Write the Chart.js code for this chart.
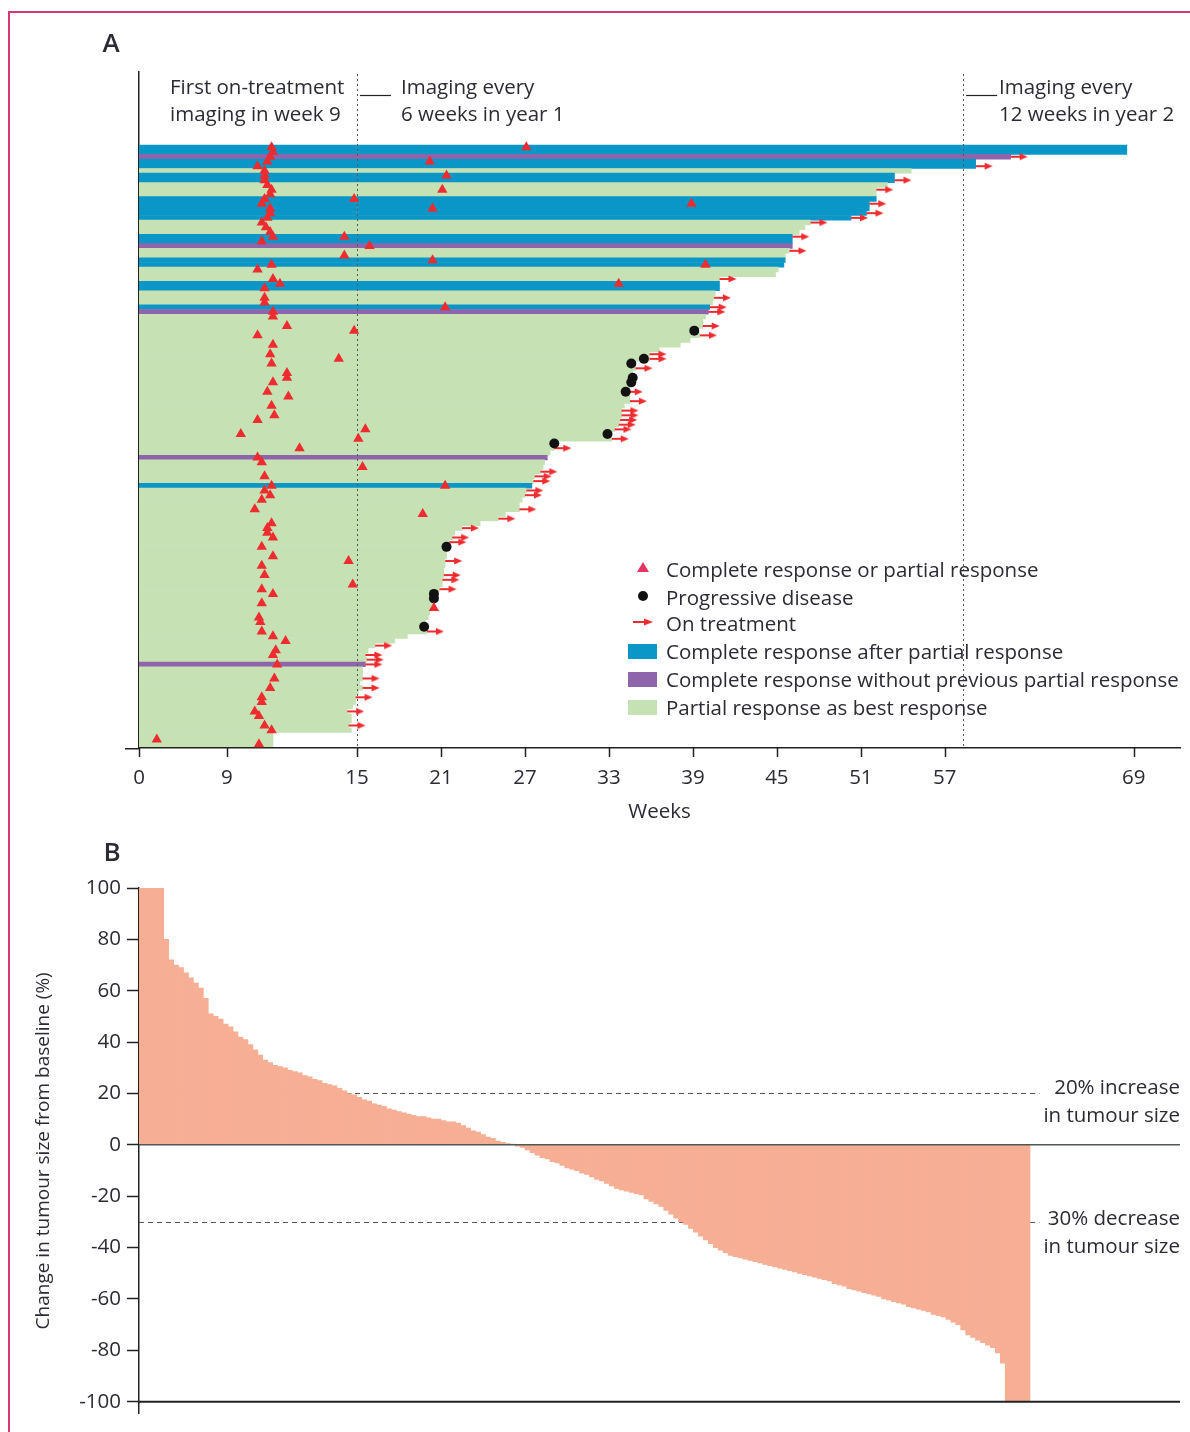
<!DOCTYPE html>
<html lang="en">
<head>
<meta charset="utf-8">
<title>Duration of response and change in tumour size</title>
<script src="https://cdn.jsdelivr.net/npm/chart.js@4.4.1/dist/chart.umd.min.js"></script>
<style>
  html, body { margin: 0; padding: 0; background: #fff; }
  body { position: relative; width: 1190px; height: 1432px; overflow: hidden;
         font-family: "Open Sans", "Noto Sans", sans-serif; color: #2b2b35; }
  #frame { position: absolute; left: 8px; top: 11px; width: 1182px; height: 1421px; box-sizing: border-box;
           border-top: 2px solid #d8386e; border-left: 2px solid #d8386e; }
  canvas { position: absolute; left: 0; }
  #chartA { top: 0; }
  #chartB { top: 840px; }
  .txt { position: absolute; font-size: 20.5px; line-height: 22px; white-space: nowrap; transform: translateY(-50%); }
  .rtxt { position: absolute; right: 10px; font-size: 20.5px; line-height: 22px; white-space: nowrap; text-align: right; transform: translateY(-50%); }
  .panel { position: absolute; font-size: 26px; font-weight: 600; line-height: 26px; transform: translate(-50%, -50%); }
  .sw { position: absolute; }
</style>
</head>
<body>
<div id="frame"></div>
<canvas id="chartA" width="1190" height="840"></canvas>
<canvas id="chartB" width="1190" height="592"></canvas>

<div class="panel" style="left:111px;top:42px">A</div>
<div class="panel" style="left:112px;top:851px">B</div>

<div class="txt" style="left:170px;top:86px">First on-treatment</div>
<div class="txt" style="left:170px;top:113px">imaging in week 9</div>
<div class="txt" style="left:401px;top:86px">Imaging every</div>
<div class="txt" style="left:401px;top:113px">6 weeks in year 1</div>
<div class="txt" style="left:999px;top:86px">Imaging every</div>
<div class="txt" style="left:999px;top:113px">12 weeks in year 2</div>

<!-- legend, panel A -->
<div class="sw" style="left:637px;top:562px;width:0;height:0;border-left:6px solid transparent;border-right:6px solid transparent;border-bottom:10px solid #e63462"></div>
<div class="sw" style="left:638px;top:591px;width:10px;height:10px;border-radius:50%;background:#111"></div>
<svg class="sw" style="left:633px;top:617px" width="20" height="10"><line x1="0" y1="5" x2="14" y2="5" stroke="#ee2b2f" stroke-width="2"/><polygon points="11,1.5 20,5 11,8.5" fill="#ee2b2f"/></svg>
<div class="sw" style="left:628px;top:644px;width:29px;height:15px;background:#0a96c6"></div>
<div class="sw" style="left:628px;top:672px;width:29px;height:15px;background:#8e64ab"></div>
<div class="sw" style="left:628px;top:700px;width:29px;height:15px;background:#c6e2b4"></div>
<div class="txt" style="left:666px;top:569px">Complete response or partial response</div>
<div class="txt" style="left:666px;top:597px">Progressive disease</div>
<div class="txt" style="left:666px;top:623px">On treatment</div>
<div class="txt" style="left:666px;top:651px">Complete response after partial response</div>
<div class="txt" style="left:666px;top:679px">Complete response without previous partial response</div>
<div class="txt" style="left:666px;top:707px">Partial response as best response</div>

<!-- threshold labels, panel B -->
<div class="rtxt" style="top:1086px">20% increase</div>
<div class="rtxt" style="top:1114px">in tumour size</div>
<div class="rtxt" style="top:1217px">30% decrease</div>
<div class="rtxt" style="top:1245px">in tumour size</div>

<script>
// ---------- Panel A: one row per responder, top to bottom ----------
// time on study (weeks) at the end of each row
const rowEndWeeks = [
  70.0,70.0,61.7,59.2,59.2,54.6,53.4,53.4,52.9,52.1,
  52.1,52.1,51.6,51.6,51.4,50.3,47.4,47.0,46.6,46.1,
  46.1,46.1,45.9,45.6,45.6,45.5,45.1,44.9,40.9,40.9,
  40.9,40.6,40.5,40.4,40.2,40.1,39.9,39.7,39.7,39.1,
  39.5,38.8,38.1,36.6,35.9,35.9,34.9,34.9,34.7,34.7,
  34.6,34.5,34.2,34.5,34.5,34.1,33.9,33.9,33.8,33.7,
  33.4,32.9,33.2,29.1,29.1,28.8,28.6,28.4,28.3,28.1,
  27.7,27.6,27.5,27.1,27.0,26.8,26.6,26.6,25.6,25.1,
  23.8,22.5,22.0,21.8,21.6,21.4,21.4,21.4,21.3,21.3,
  21.2,21.2,21.1,21.1,20.9,20.5,20.5,20.4,20.4,20.2,
  20.1,19.9,19.8,20.0,18.6,17.7,16.3,15.8,15.6,15.7,
  15.6,15.4,15.4,15.4,15.2,15.4,15.1,14.9,14.9,14.7,
  14.3,14.6,14.6,14.4,14.6,9.0,9.0,9.0
];
// best response: 0 partial response, 1 complete response after partial response,
// 2 complete response without previous partial response
const rowBestResponse = [
  1,1,2,1,1,0,1,1,0,0,
  0,1,1,1,1,1,0,0,0,1,
  1,2,0,0,1,1,0,0,0,1,
  1,0,0,0,1,2,0,0,0,0,
  0,0,0,0,0,0,0,0,0,0,
  0,0,0,0,0,0,0,0,0,0,
  0,0,0,0,0,0,2,0,0,0,
  0,0,1,0,0,0,0,0,0,0,
  0,0,0,0,0,0,0,0,0,0,
  0,0,0,0,0,0,0,0,0,0,
  0,0,0,0,0,0,0,0,0,0,
  2,0,0,0,0,0,0,0,0,0,
  0,0,0,0,0,0,0,0
];
// weeks at which a complete or partial response was recorded, per row
const responseWeeks = [
  [8.9,27.1],[9.0],[8.8],[8.6,20.2],[7.9],[8.4],[8.4,21.4],[8.4],[8.6],[8.9,21.1],
  [8.8],[8.4,14.8],[8.2,38.9],[8.8,20.4],[8.8],[8.6],[8.2],[8.5],[8.8],[9.0,14.1],
  [8.2],[15.9],[],[14.1],[20.4],[8.9,39.9],[7.9],[],[9.0],[9.5,33.7],
  [8.4],[],[8.4],[8.4],[21.3],[9.0],[9.0],[],[10.0],[14.8],
  [7.9],[],[9.0],[],[8.8],[13.7],[8.9],[],[10.0],[10.0],
  [9.0],[],[8.6],[10.1],[],[8.9],[],[9.1],[7.9],[],
  [15.6],[6.7],[15.1],[],[10.9],[],[7.9],[8.2],[15.4],[],
  [8.4],[],[8.9,21.3],[8.4],[8.8],[8.2],[],[7.7],[19.7],[],
  [8.9],[8.6],[8.6],[9.0],[],[8.2],[],[9.0],[14.4],[8.2],
  [],[8.4],[],[14.7],[8.2],[9.0],[],[8.2],[20.5],[],
  [8.0],[8.1],[],[8.2],[9.0],[9.9],[],[9.2],[9.0],[],
  [9.3],[],[],[9.1],[],[8.8],[],[8.2],[8.2],[],
  [7.7],[8.0],[],[8.4],[8.9],[],[0.7],[8.0]
];
// progressive disease
const progressionRows  = [39, 45, 46, 49, 50, 52, 61, 63, 85, 95, 96, 102];
const progressionWeeks = [39.1, 35.5, 34.6, 34.7, 34.6, 34.2, 32.9, 29.1, 21.4, 20.5, 20.5, 19.8];
// still on treatment at data cut-off
const onTreatmentRows = [2,4,7,9,12,14,15,16,19,22,28,32,34,35,38,40,44,45,47,52,54,56,57,58,59,60,
  62,64,69,70,71,73,74,77,79,81,83,84,88,91,92,94,103,106,108,109,110,113,115,117,120,123];
// weeks where the imaging schedule changes
const imagingChangeWeeks = [15, 58.3];
// week axis: printed labels and the week at which each is placed
const weekTickLabels = ['0', '9', '15', '21', '27', '33', '39', '45', '51', '57', '69'];
const weekTickAt     = [-0.57, 5.71, 15, 21, 27, 33, 39, 45, 51, 57, 70.5];

// ---------- Panel B: best change in tumour size, one bar per patient ----------
const changeFromBaseline = [
  100,100,100,100,100,80,72,70,69,67,65,63,61,57,51,50,49,47,46,44,
  42,41,39,37,35,33,32,31,30.5,30,29,28.5,28,27,26.5,25.5,25,24,23.5,23,
  22,21,20,19.5,18.5,17.5,17,16,15.5,15,14,13.5,13,12.5,12,11.5,11,11,10.5,10,
  10,9.5,9,9,8.5,7.5,6.5,5.5,5,4,3,2.5,1.5,1,0.5,0.3,-0.5,-1,-2,-3,
  -4,-5,-5.5,-6.5,-7,-8,-9,-9.5,-10,-11,-11.5,-12.5,-13.5,-14,-15,-16,-17,-17.5,-18,-18.5,
  -19,-19.5,-21,-22,-23,-24,-25.5,-27,-28.5,-30,-31,-32.5,-34,-35.5,-37,-38.5,-40,-41,-42,-43,
  -43.5,-44,-44.5,-45,-45.5,-46,-46.5,-47,-47.5,-48,-48.5,-49,-49.5,-50,-50.5,-51,-51.5,-52,-52.5,-53,
  -54,-54.5,-55,-56,-56.5,-57,-57.5,-58,-58.5,-59,-60,-60.5,-61,-61.5,-62,-63,-63.5,-64,-64.5,-65,
  -66,-66.5,-67,-68,-69,-70,-72,-74,-75,-76,-77,-78,-79,-81,-85,-100,-100,-100,-100,-100
];
const changeTickValues = [100, 80, 60, 40, 20, 0, -20, -40, -60, -80, -100];
const thresholdLines = [20, -30];

// ---------- shared styling ----------
const FONT = '"Open Sans", "Noto Sans", sans-serif';
const INK = '#2b2b35';
Chart.defaults.font.family = FONT;
Chart.defaults.font.size = 20.5;
Chart.defaults.color = INK;

const RED = '#ee2b2f';
const responseColours = ['#c6e2b4', '#0a96c6', '#8e64ab'];

// right-pointing arrow glyph used for "on treatment"; drawn from the centre to the right
function makeArrow() {
  const c = document.createElement('canvas');
  c.width = 36; c.height = 10;
  const g = c.getContext('2d');
  g.strokeStyle = RED; g.fillStyle = RED; g.lineWidth = 2;
  g.beginPath(); g.moveTo(18, 5); g.lineTo(30, 5); g.stroke();
  g.beginPath(); g.moveTo(27, 1.5); g.lineTo(35, 5); g.lineTo(27, 8.5); g.closePath(); g.fill();
  return c;
}

// ---------- Panel A chart ----------
const axisStartWeek = -0.57, axisEndWeek = 73.8;
const rowsAbove = -16.03, rowsBelow = 127.79;

const barData = rowEndWeeks.map((w, i) => ({ x: [axisStartWeek, w], y: i }));
const barColours = rowBestResponse.map(t => responseColours[t]);
const responsePoints = [];
responseWeeks.forEach((ws, i) => ws.forEach(w => responsePoints.push({ x: w, y: i })));
const progressionPoints = progressionRows.map((r, k) => ({ x: progressionWeeks[k], y: r }));
const treatmentPoints = onTreatmentRows.map(r => ({ x: rowEndWeeks[r], y: r }));

const guidesA = {
  id: 'guidesA',
  afterDatasetDraw(chart, args) {
    if (args.meta.type !== 'bar') return;
    const { ctx, chartArea: { top, bottom }, scales: { x } } = chart;
    ctx.save();
    ctx.strokeStyle = '#555'; ctx.lineWidth = 1; ctx.setLineDash([2, 3]);
    imagingChangeWeeks.forEach(w => {
      const px = Math.round(x.getPixelForValue(w)) + 0.5;
      ctx.beginPath(); ctx.moveTo(px, top + 2); ctx.lineTo(px, bottom); ctx.stroke();
    });
    ctx.setLineDash([]);
    ctx.strokeStyle = '#222'; ctx.lineWidth = 1.2;
    imagingChangeWeeks.forEach(w => {
      const px = x.getPixelForValue(w);
      ctx.beginPath(); ctx.moveTo(px + 3, 95.5); ctx.lineTo(px + 34, 95.5); ctx.stroke();
    });
    ctx.restore();
  },
  afterDraw(chart) {
    const { ctx, chartArea: { left, bottom }, scales: { x } } = chart;
    ctx.save();
    ctx.strokeStyle = '#222'; ctx.lineWidth = 1.5;
    // axis line continues a little to the left of the y axis
    ctx.beginPath(); ctx.moveTo(left - 14, bottom + 0.75); ctx.lineTo(left, bottom + 0.75); ctx.stroke();
    // tick marks below the week axis
    x.ticks.forEach(t => {
      const px = Math.round(x.getPixelForValue(t.value)) + 0.5;
      ctx.beginPath(); ctx.moveTo(px, bottom); ctx.lineTo(px, bottom + 9); ctx.stroke();
    });
    ctx.restore();
  }
};

new Chart(document.getElementById('chartA'), {
  type: 'bar',
  data: {
    datasets: [
      { type: 'scatter', data: responsePoints, pointStyle: 'triangle', radius: 6,
        backgroundColor: RED, borderWidth: 0, order: 0, clip: false },
      { type: 'scatter', data: progressionPoints, pointStyle: 'circle', radius: 5,
        backgroundColor: '#121212', borderWidth: 0, order: 1, clip: false },
      { type: 'scatter', data: treatmentPoints, pointStyle: makeArrow(),
        order: 2, clip: false },
      { type: 'bar', data: barData, backgroundColor: barColours,
        borderWidth: 0, barPercentage: 1, categoryPercentage: 1, order: 3 }
    ]
  },
  options: {
    indexAxis: 'y',
    responsive: false, animation: false, events: [],
    layout: { padding: { top: 72, right: 10, bottom: 0, left: 0 } },
    plugins: { legend: { display: false }, tooltip: { enabled: false } },
    scales: {
      x: {
        type: 'linear', min: axisStartWeek, max: axisEndWeek, offset: false,
        afterBuildTicks: s => { s.ticks = weekTickAt.map(v => ({ value: v })); },
        ticks: { autoSkip: false, maxRotation: 0, padding: 10,
                 callback: (v, i) => weekTickLabels[i] },
        grid: { display: false },
        border: { display: true, color: '#222', width: 1.5 },
        title: { display: true, text: 'Weeks', padding: { top: 0, bottom: 16 } },
        afterFit: s => { s.height = 92; }
      },
      y: {
        type: 'linear', reverse: true, min: rowsAbove, max: rowsBelow, offset: false,
        ticks: { display: false },
        grid: { display: false },
        border: { display: true, color: '#222', width: 1.5 },
        afterFit: s => { s.width = 139; }
      }
    }
  },
  plugins: [guidesA]
});

// ---------- Panel B chart ----------
const guidesB = {
  id: 'guidesB',
  beforeDatasetsDraw(chart) {
    const { ctx, chartArea: { left }, scales: { x, y } } = chart;
    const end = x.getPixelForValue(changeFromBaseline.length - 1) + 12;
    ctx.save();
    ctx.strokeStyle = '#555'; ctx.lineWidth = 1; ctx.setLineDash([5, 4]);
    thresholdLines.forEach(v => {
      const py = Math.round(y.getPixelForValue(v)) + 0.5;
      ctx.beginPath(); ctx.moveTo(left, py); ctx.lineTo(end, py); ctx.stroke();
    });
    ctx.restore();
  },
  afterDatasetsDraw(chart) {
    const { ctx, chartArea: { left, right }, scales: { y } } = chart;
    ctx.save();
    ctx.strokeStyle = '#4d5a52'; ctx.lineWidth = 1.5;
    let py = y.getPixelForValue(0);
    ctx.beginPath(); ctx.moveTo(left, py); ctx.lineTo(right, py); ctx.stroke();
    ctx.strokeStyle = '#222'; ctx.lineWidth = 2;
    py = y.getPixelForValue(-100);
    ctx.beginPath(); ctx.moveTo(left, py); ctx.lineTo(right, py); ctx.stroke();
    ctx.restore();
  }
};

new Chart(document.getElementById('chartB'), {
  type: 'bar',
  data: {
    datasets: [{
      data: changeFromBaseline.map((v, i) => ({ x: i, y: v })),
      backgroundColor: '#f6ae94', borderWidth: 0, barPercentage: 1, categoryPercentage: 1
    }]
  },
  options: {
    responsive: false, animation: false, events: [],
    layout: { padding: { top: 48, right: 10, bottom: 17, left: 0 } },
    plugins: { legend: { display: false }, tooltip: { enabled: false } },
    scales: {
      x: { type: 'linear', display: false, offset: false, grid: { offset: false }, min: -0.5, max: 209.8 },
      y: {
        type: 'linear', min: -104.66, max: 100,
        afterBuildTicks: s => { s.ticks = changeTickValues.map(v => ({ value: v })); },
        ticks: { padding: 6, callback: v => String(v) },
        grid: { display: true, drawOnChartArea: false, drawTicks: true, tickLength: 12,
                tickColor: '#222', tickWidth: 1.5 },
        border: { display: true, color: '#222', width: 1.5 },
        title: { display: true, text: 'Change in tumour size from baseline (%)',
                 font: { size: 19 }, padding: { top: 32, bottom: 0 } },
        afterFit: s => { s.width = 139; }
      }
    }
  },
  plugins: [guidesB]
});
</script>
</body>
</html>
